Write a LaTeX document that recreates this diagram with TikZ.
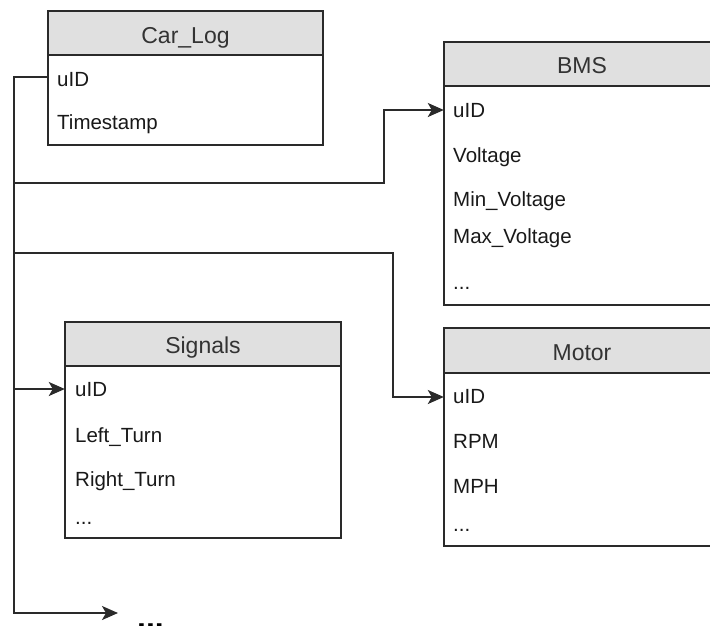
\documentclass[tikz,border=0pt]{standalone}
\usepackage{fontspec}
\setmainfont{Liberation Sans}
\usetikzlibrary{arrows.meta}
\definecolor{hdrfill}{HTML}{E0E0E0}
\definecolor{edge}{HTML}{2A2A2A}
\definecolor{hdrtext}{HTML}{333333}
\begin{document}
\begin{tikzpicture}[x=1pt,y=-1pt,
  boxframe/.style={draw=edge,line width=1.8pt,fill=white},
  hdr/.style={draw=edge,line width=1.8pt,fill=hdrfill},
  hdrlabel/.style={anchor=base,inner sep=0pt,text=hdrtext,font=\fontsize{23}{26}\selectfont},
  rowlabel/.style={anchor=base west,inner sep=0pt,text=black!90,font=\fontsize{20.5}{24}\selectfont},
  conn/.style={draw=edge,line width=1.8pt},
  arr/.style={conn,-{Stealth[length=16pt,width=14pt,inset=4pt]}}]
\useasboundingbox (0,0) rectangle (710,625);
\clip (0,0) rectangle (710,625);
\fill[white] (0,0) rectangle (710,625);

% Car_Log
\draw[boxframe] (48,11) rectangle (323,145);
\draw[hdr] (48,11) rectangle (323,55);
\node[inner sep=0pt,minimum width=275pt,minimum height=134pt] (carlog) at (185.5,78) {};
\node[hdrlabel] (cl-h) at (185.5,43) {Car\_Log};
\node[rowlabel] (cl-1) at (57,86) {uID};
\node[rowlabel] (cl-2) at (57,129) {Timestamp};

% BMS
\draw[boxframe] (444,42) rectangle (720,305);
\draw[hdr] (444,42) rectangle (720,86);
\node[inner sep=0pt,minimum width=276pt,minimum height=263pt] (bms) at (582,173.5) {};
\node[hdrlabel] (bms-h) at (582,73) {BMS};
\node[rowlabel] (bms-1) at (453,117) {uID};
\node[rowlabel] (bms-2) at (453,162) {Voltage};
\node[rowlabel] (bms-3) at (453,206) {Min\_Voltage};
\node[rowlabel] (bms-4) at (453,243) {Max\_Voltage};
\node[rowlabel] (bms-5) at (453,289) {...};

% Motor
\draw[boxframe] (444,328) rectangle (720,546);
\draw[hdr] (444,328) rectangle (720,373);
\node[inner sep=0pt,minimum width=276pt,minimum height=218pt] (motor) at (582,437) {};
\node[hdrlabel] (mo-h) at (582,360) {Motor};
\node[rowlabel] (mo-1) at (453,403) {uID};
\node[rowlabel] (mo-2) at (453,448) {RPM};
\node[rowlabel] (mo-3) at (453,493) {MPH};
\node[rowlabel] (mo-4) at (453,531) {...};

% Signals
\draw[boxframe] (65,322) rectangle (341,538);
\draw[hdr] (65,322) rectangle (341,366);
\node[inner sep=0pt,minimum width=276pt,minimum height=216pt] (signals) at (203,430) {};
\node[hdrlabel] (si-h) at (203,353) {Signals};
\node[rowlabel] (si-1) at (75,396) {uID};
\node[rowlabel] (si-2) at (75,442) {Left\_Turn};
\node[rowlabel] (si-3) at (75,486) {Right\_Turn};
\node[rowlabel] (si-4) at (75,524) {...};

% more
\node[anchor=base west,inner sep=0pt,font=\bfseries\fontsize{32}{36}\selectfont] (more) at (137,628) {...};

% connectors
\coordinate (trunktop) at (14,77);
\coordinate (trunkbot) at (14,613);
\coordinate (moretip) at (118,613);
\coordinate (j1) at (14,183);
\coordinate (j2) at (14,253);
\coordinate (j3) at (14,389);
\coordinate (b1) at (384,110);
\coordinate (b2) at (393,397);

\draw[arr] (carlog.west |- trunktop) -- (trunktop) -- (trunkbot) -- (moretip);
\draw[arr] (j1) -| (b1) -- (bms.west |- b1);
\draw[arr] (j2) -| (b2) -- (motor.west |- b2);
\draw[arr] (j3) -- (signals.west |- j3);
\end{tikzpicture}
\end{document}
